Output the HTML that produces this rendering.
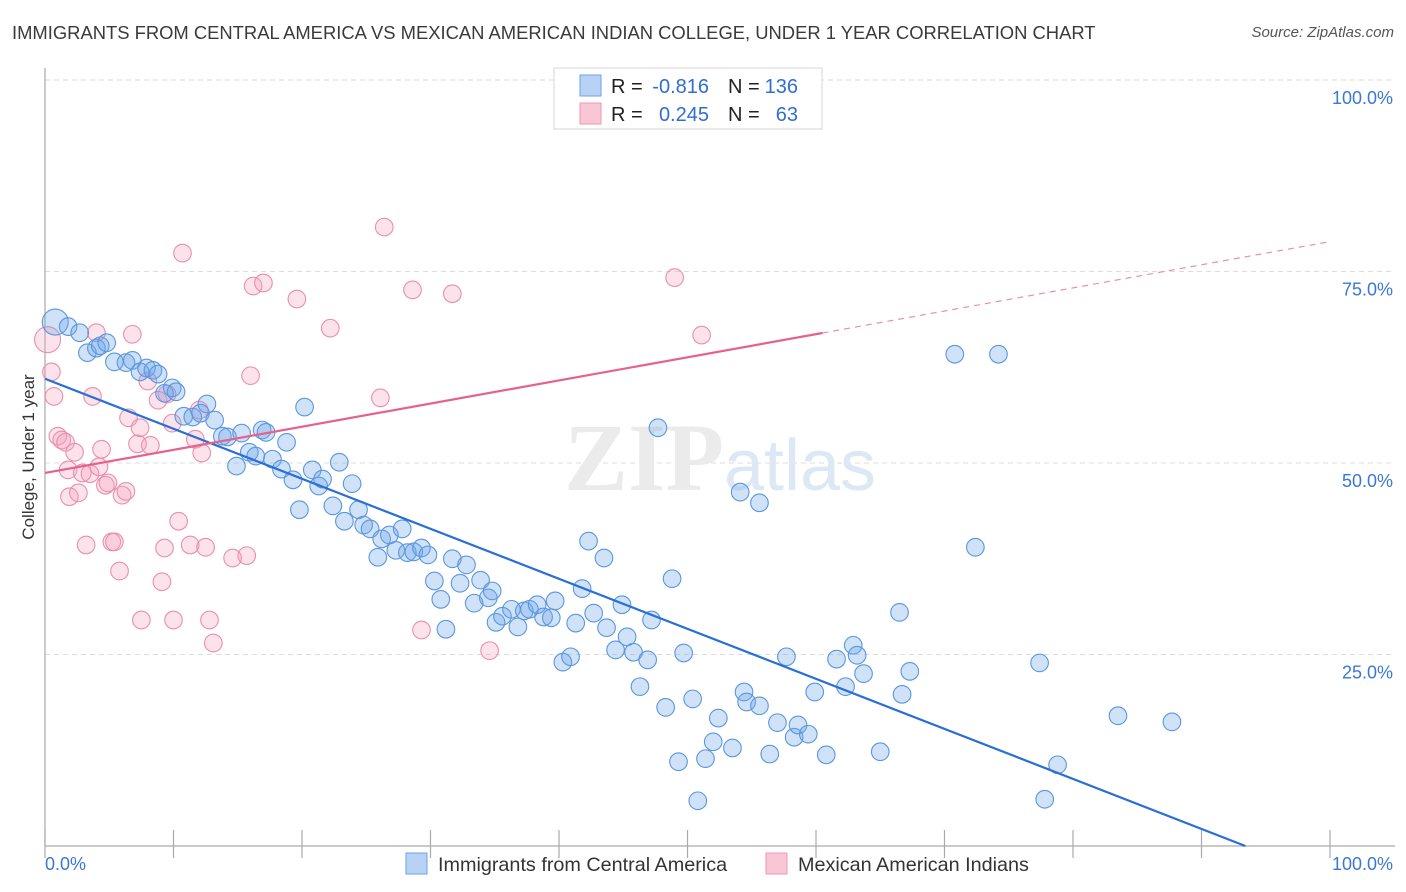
<!DOCTYPE html>
<html><head><meta charset="utf-8">
<style>
body{margin:0;background:#fff;font-family:"Liberation Sans",sans-serif;}
#wrap{position:relative;width:1406px;height:892px;overflow:hidden;}
.title{position:absolute;left:12px;top:22px;font-size:18.4px;color:#3a3a3a;}
.source{position:absolute;right:12px;top:24px;font-size:15px;color:#555;font-style:italic}
</style></head>
<body>
<div id="wrap">
<div class="title">IMMIGRANTS FROM CENTRAL AMERICA VS MEXICAN AMERICAN INDIAN COLLEGE, UNDER 1 YEAR CORRELATION CHART</div>
<div class="source">Source: ZipAtlas.com</div>
<svg id="chart" width="1406" height="892" style="position:absolute;left:0;top:0"></svg>
</div>
<script>
const blueX=[0.8,1.8,2.7,3.3,4.0,4.3,4.8,6.3,5.4,6.8,7.4,7.9,8.4,8.8,9.3,9.9,10.2,10.8,11.5,12.1,12.6,13.2,13.8,14.2,14.9,15.3,15.9,16.4,16.9,17.2,17.7,18.4,18.8,19.3,19.8,20.2,20.8,21.3,21.6,22.4,22.9,23.3,23.9,24.4,24.8,25.3,25.9,26.2,26.8,27.3,27.8,28.2,28.7,29.3,29.8,30.3,30.8,31.2,31.7,32.3,32.8,33.4,33.9,34.5,34.8,35.1,35.6,36.3,36.8,37.3,37.7,38.3,38.8,39.4,39.7,40.3,40.9,41.3,41.8,42.3,42.7,43.5,43.7,44.4,44.9,45.3,45.8,46.3,46.9,47.2,47.7,48.3,48.8,49.3,49.7,50.4,50.8,51.4,52.0,52.4,53.5,54.1,54.4,54.6,55.6,55.6,56.4,57.0,57.7,58.3,58.6,59.4,59.9,60.8,61.6,62.3,62.9,63.2,63.7,65.0,66.5,66.7,67.3,70.8,74.2,72.4,77.4,77.8,78.8,83.5,87.7];
const blueY=[68.4,67.8,67.0,64.4,65.0,65.3,65.7,63.1,63.2,63.4,61.9,62.4,62.1,61.6,59.1,59.8,59.3,56.1,56.0,56.5,57.7,55.6,53.5,53.4,49.6,53.9,51.4,50.9,54.3,54.0,50.5,49.2,52.7,47.8,43.9,57.3,49.1,47.0,47.9,44.4,50.1,42.4,47.3,43.9,41.9,41.4,37.7,40.1,40.6,38.6,41.4,38.3,38.4,38.9,38.0,34.6,32.2,28.3,37.5,34.3,36.7,31.7,34.7,32.4,33.3,29.2,30.0,30.9,28.6,30.7,30.9,31.5,29.9,29.8,32.0,24.0,24.7,29.1,33.6,39.8,30.4,37.6,28.5,25.6,31.5,27.3,25.3,20.8,24.3,29.5,54.6,18.1,34.9,11.0,25.2,19.2,5.9,11.4,13.6,16.7,12.8,46.2,20.1,18.8,44.8,18.3,12.0,16.1,24.7,14.2,15.8,14.6,20.1,11.9,24.4,20.8,26.2,24.9,22.5,12.3,30.5,19.8,22.8,64.2,64.2,39.0,23.9,6.1,10.6,17.0,16.2];
const pinkX=[0.2,0.5,0.7,1.0,1.3,1.6,1.8,1.9,2.3,2.6,2.9,3.2,3.5,3.7,4.0,4.2,4.4,4.7,4.9,5.2,5.4,5.8,6.0,6.3,6.5,6.8,7.2,7.4,8.0,8.2,8.8,9.1,9.3,9.5,9.9,7.5,10.0,10.4,10.7,11.3,11.7,12.0,12.2,12.5,12.8,13.1,14.6,15.7,16.0,16.2,17.0,19.6,22.2,26.1,26.4,28.6,29.3,31.7,34.6,49.0,51.1];
const pinkY=[66.1,61.9,58.7,53.5,53.0,52.7,49.1,45.6,51.4,46.1,48.7,39.3,48.6,58.7,67.0,49.5,51.8,47.1,47.4,39.7,39.7,35.9,45.8,46.3,55.9,66.8,52.5,54.6,60.7,52.3,58.2,34.5,38.9,59.0,55.2,29.5,29.5,42.4,77.4,39.3,53.1,56.9,51.3,39.0,29.5,26.5,37.6,37.9,61.4,73.1,73.5,71.4,67.6,58.5,80.8,72.6,28.2,72.1,25.5,74.2,66.7];
const blueFit=[61.0,-0.653];   // intercept, slope
const pinkFit=[48.7,0.302];
const yTicks=[25,50,75,100];
const yTickLabels=["25.0%","50.0%","75.0%","100.0%"];
const xTicks=[0,10,20,30,40,50,60,70,80,90,100];

const NS="http://www.w3.org/2000/svg";
const svg=document.getElementById('chart');
const X0=45,X1=1330,Y0=846,Y100=80;
const sx=v=>X0+(X1-X0)*v/100;
const sy=v=>Y0-(Y0-Y100)*v/100;
function mk(tag,attrs,parent){const e=document.createElementNS(NS,tag);for(const k in attrs)e.setAttribute(k,attrs[k]);(parent||svg).appendChild(e);return e;}

yTicks.forEach((t,i)=>{
  const g=mk('line',{x1:45,x2:1395,y1:sy(t),y2:sy(t),stroke:'#dcdcdc','stroke-dasharray':'5,4','stroke-width':1});
  
  
  const tx=mk('text',{x:1393,y:sy(t)+24,'text-anchor':'end','font-size':18,fill:'#3a78d4','font-family':'Liberation Sans, sans-serif'});
  tx.textContent=yTickLabels[i];
  
  
});
const ya=mk('line',{x1:45,x2:45,y1:68,y2:846,stroke:'#aaa','stroke-width':1.2});


const xa=mk('line',{x1:45,x2:1395,y1:846,y2:846,stroke:'#aaa','stroke-width':1.2});


xTicks.forEach(t=>{
  const l=mk('line',{x1:sx(t),x2:sx(t),y1:830,y2:858,stroke:'#aaa','stroke-width':1.2});
  
  
});
[['0.0%',45,'start'],['100.0%',1393,'end']].forEach(a=>{
  const t=mk('text',{x:a[1],y:870,'text-anchor':a[2],'font-size':18,fill:'#3a78d4','font-family':'Liberation Sans, sans-serif'});
  t.textContent=a[0];
  
  
});
const yt=mk('text',{x:34,y:457,'text-anchor':'middle','font-size':17,fill:'#333',transform:'rotate(-90 34 457)','font-family':'Liberation Sans, sans-serif'});
yt.textContent='College, Under 1 year';



const wm=mk('text',{x:720,y:490,'text-anchor':'middle','font-size':96,fill:'#ebebeb','font-family':'Liberation Serif, serif'});
wm.innerHTML='<tspan font-weight="bold">ZIP</tspan><tspan font-family="Liberation Sans, sans-serif" font-size="72" fill="#dde8f5">atlas</tspan>';



function pts(xs,ys,fill,stroke,name){
  xs.forEach((x,i)=>{
    const r=(i===0)?13:8.8;
    const c=mk('circle',{cx:sx(x),cy:sy(ys[i]),r:r,fill:fill,stroke:stroke,'stroke-width':1.1});
    
    
  });
}
pts(pinkX,pinkY,'rgba(244,160,188,0.3)','#e98fae','point-mexican-american-indian');
pts(blueX,blueY,'rgba(110,165,232,0.32)','#5a97dd','point-central-america');

const bx2=-blueFit[0]/blueFit[1];
const bl=mk('line',{x1:sx(0),y1:sy(blueFit[0]),x2:sx(bx2),y2:sy(0),stroke:'#2a6fd6','stroke-width':2.2});


const pl=mk('line',{x1:sx(0),y1:sy(pinkFit[0]),x2:sx(60.5),y2:sy(pinkFit[0]+pinkFit[1]*60.5),stroke:'#e5628d','stroke-width':2.2});


const pd=mk('line',{x1:sx(60.5),y1:sy(pinkFit[0]+pinkFit[1]*60.5),x2:sx(100),y2:sy(pinkFit[0]+pinkFit[1]*100),stroke:'#e98fae','stroke-width':1.2,'stroke-dasharray':'6,5'});



const lg=mk('g',{});


mk('rect',{x:554,y:68,width:268,height:61,fill:'#fff',stroke:'#d6d6d6'},lg);
mk('rect',{x:580,y:75,width:21,height:21,fill:'#b7d2f5',stroke:'#6fa3e6'},lg);
mk('rect',{x:580,y:103,width:21,height:21,fill:'#f9c6d6',stroke:'#ec9ab6'},lg);
function lt(x,y,s,c,anchor){const t=mk('text',{x:x,y:y,'font-size':20,fill:c,'text-anchor':anchor||'start','font-family':'Liberation Sans, sans-serif'},lg);t.textContent=s;return t;}
lt(611,93,'R =','#222');lt(709,93,'-0.816','#2f6fd0','end');lt(728,93,'N =','#222');lt(798,93,'136','#2f6fd0','end');
lt(611,121,'R =','#222');lt(709,121,'0.245','#2f6fd0','end');lt(728,121,'N =','#222');lt(798,121,'63','#2f6fd0','end');

const bl1=mk('g',{});


mk('rect',{x:406,y:853,width:21,height:21,fill:'#b7d2f5',stroke:'#6fa3e6'},bl1);
const t1=mk('text',{x:438,y:871,'font-size':19.8,fill:'#333','font-family':'Liberation Sans, sans-serif'},bl1);t1.textContent='Immigrants from Central America';
const bl2=mk('g',{});


mk('rect',{x:766,y:853,width:21,height:21,fill:'#f9c6d6',stroke:'#ec9ab6'},bl2);
const t2=mk('text',{x:798,y:871,'font-size':19.8,fill:'#333','font-family':'Liberation Sans, sans-serif'},bl2);t2.textContent='Mexican American Indians';
</script>
</body></html>
